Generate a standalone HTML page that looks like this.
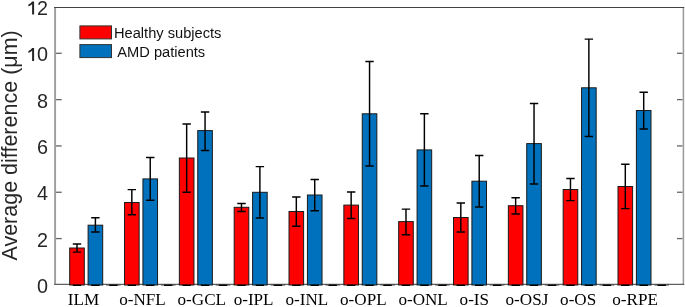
<!DOCTYPE html>
<html><head><meta charset="utf-8"><style>
html,body{margin:0;padding:0;background:#fff;width:685px;height:307px;overflow:hidden}
svg{display:block;will-change:transform}
.tk{font-family:"Liberation Sans",sans-serif;font-size:19.8px;fill:#262626}
.yl{font-family:"Liberation Sans",sans-serif;font-size:21.5px;fill:#262626}
.lg{font-family:"Liberation Sans",sans-serif;font-size:14.65px;fill:#111}
.xl{font-family:"Liberation Serif",serif;font-size:16.3px;fill:#000}
</style></head><body>
<svg width="685" height="307" viewBox="0 0 685 307">
<rect x="0" y="0" width="685" height="307" fill="#fff"/>
<line x1="55.1" x2="55.1" y1="7" y2="284.6" stroke="#9d9d9d" stroke-width="1.9"/>
<line x1="683.4" x2="683.4" y1="7" y2="284.6" stroke="#9a9a9a" stroke-width="1.5"/>
<line x1="54.1" x2="684.2" y1="7.45" y2="7.45" stroke="#444" stroke-width="1.15"/>
<line x1="54.1" x2="684.2" y1="284.35" y2="284.35" stroke="#606060" stroke-width="1.1"/>
<rect x="69.70" y="248" width="14.6" height="37.00" fill="#ff0000" stroke="#1a1a1a" stroke-width="1"/>
<rect x="88.10" y="225.2" width="14.6" height="59.80" fill="#0072bd" stroke="#1a1a1a" stroke-width="1"/>
<line x1="106.10" x2="120.70" y1="285.0" y2="285.0" stroke="#444" stroke-width="1"/>
<line x1="72.80" x2="81.20" y1="285.3" y2="285.3" stroke="#000" stroke-width="1.4"/>
<line x1="91.20" x2="99.60" y1="285.3" y2="285.3" stroke="#000" stroke-width="1.4"/>
<line x1="109.20" x2="117.60" y1="285.3" y2="285.3" stroke="#000" stroke-width="1.4"/>
<path d="M77.00 243.9V252.1M72.80 243.9H81.20M72.80 252.1H81.20" stroke="#000" stroke-width="1.45" fill="none"/>
<path d="M95.40 217.8V232M91.20 217.8H99.60M91.20 232H99.60" stroke="#000" stroke-width="1.45" fill="none"/>
<rect x="124.53" y="202.5" width="14.6" height="82.50" fill="#ff0000" stroke="#1a1a1a" stroke-width="1"/>
<rect x="142.93" y="178.9" width="14.6" height="106.10" fill="#0072bd" stroke="#1a1a1a" stroke-width="1"/>
<line x1="160.93" x2="175.53" y1="285.0" y2="285.0" stroke="#444" stroke-width="1"/>
<line x1="127.63" x2="136.03" y1="285.3" y2="285.3" stroke="#000" stroke-width="1.4"/>
<line x1="146.03" x2="154.43" y1="285.3" y2="285.3" stroke="#000" stroke-width="1.4"/>
<line x1="164.03" x2="172.43" y1="285.3" y2="285.3" stroke="#000" stroke-width="1.4"/>
<path d="M131.83 189.6V214.8M127.63 189.6H136.03M127.63 214.8H136.03" stroke="#000" stroke-width="1.45" fill="none"/>
<path d="M150.23 157.4V200.2M146.03 157.4H154.43M146.03 200.2H154.43" stroke="#000" stroke-width="1.45" fill="none"/>
<rect x="179.36" y="158" width="14.6" height="127.00" fill="#ff0000" stroke="#1a1a1a" stroke-width="1"/>
<rect x="197.76" y="130.6" width="14.6" height="154.40" fill="#0072bd" stroke="#1a1a1a" stroke-width="1"/>
<line x1="215.76" x2="230.36" y1="285.0" y2="285.0" stroke="#444" stroke-width="1"/>
<line x1="182.46" x2="190.86" y1="285.3" y2="285.3" stroke="#000" stroke-width="1.4"/>
<line x1="200.86" x2="209.26" y1="285.3" y2="285.3" stroke="#000" stroke-width="1.4"/>
<line x1="218.86" x2="227.26" y1="285.3" y2="285.3" stroke="#000" stroke-width="1.4"/>
<path d="M186.66 124V192.2M182.46 124H190.86M182.46 192.2H190.86" stroke="#000" stroke-width="1.45" fill="none"/>
<path d="M205.06 112V150.4M200.86 112H209.26M200.86 150.4H209.26" stroke="#000" stroke-width="1.45" fill="none"/>
<rect x="234.19" y="207.3" width="14.6" height="77.70" fill="#ff0000" stroke="#1a1a1a" stroke-width="1"/>
<rect x="252.59" y="192.3" width="14.6" height="92.70" fill="#0072bd" stroke="#1a1a1a" stroke-width="1"/>
<line x1="270.59" x2="285.19" y1="285.0" y2="285.0" stroke="#444" stroke-width="1"/>
<line x1="237.29" x2="245.69" y1="285.3" y2="285.3" stroke="#000" stroke-width="1.4"/>
<line x1="255.69" x2="264.09" y1="285.3" y2="285.3" stroke="#000" stroke-width="1.4"/>
<line x1="273.69" x2="282.09" y1="285.3" y2="285.3" stroke="#000" stroke-width="1.4"/>
<path d="M241.49 203.4V211.4M237.29 203.4H245.69M237.29 211.4H245.69" stroke="#000" stroke-width="1.45" fill="none"/>
<path d="M259.89 166.6V217.9M255.69 166.6H264.09M255.69 217.9H264.09" stroke="#000" stroke-width="1.45" fill="none"/>
<rect x="289.02" y="211.5" width="14.6" height="73.50" fill="#ff0000" stroke="#1a1a1a" stroke-width="1"/>
<rect x="307.42" y="195" width="14.6" height="90.00" fill="#0072bd" stroke="#1a1a1a" stroke-width="1"/>
<line x1="325.42" x2="340.02" y1="285.0" y2="285.0" stroke="#444" stroke-width="1"/>
<line x1="292.12" x2="300.52" y1="285.3" y2="285.3" stroke="#000" stroke-width="1.4"/>
<line x1="310.52" x2="318.92" y1="285.3" y2="285.3" stroke="#000" stroke-width="1.4"/>
<line x1="328.52" x2="336.92" y1="285.3" y2="285.3" stroke="#000" stroke-width="1.4"/>
<path d="M296.32 197V226.3M292.12 197H300.52M292.12 226.3H300.52" stroke="#000" stroke-width="1.45" fill="none"/>
<path d="M314.72 179.4V210.7M310.52 179.4H318.92M310.52 210.7H318.92" stroke="#000" stroke-width="1.45" fill="none"/>
<rect x="343.85" y="205.1" width="14.6" height="79.90" fill="#ff0000" stroke="#1a1a1a" stroke-width="1"/>
<rect x="362.25" y="113.8" width="14.6" height="171.20" fill="#0072bd" stroke="#1a1a1a" stroke-width="1"/>
<line x1="380.25" x2="394.85" y1="285.0" y2="285.0" stroke="#444" stroke-width="1"/>
<line x1="346.95" x2="355.35" y1="285.3" y2="285.3" stroke="#000" stroke-width="1.4"/>
<line x1="365.35" x2="373.75" y1="285.3" y2="285.3" stroke="#000" stroke-width="1.4"/>
<line x1="383.35" x2="391.75" y1="285.3" y2="285.3" stroke="#000" stroke-width="1.4"/>
<path d="M351.15 191.9V218.4M346.95 191.9H355.35M346.95 218.4H355.35" stroke="#000" stroke-width="1.45" fill="none"/>
<path d="M369.55 61.4V166M365.35 61.4H373.75M365.35 166H373.75" stroke="#000" stroke-width="1.45" fill="none"/>
<rect x="398.68" y="221.6" width="14.6" height="63.40" fill="#ff0000" stroke="#1a1a1a" stroke-width="1"/>
<rect x="417.08" y="149.9" width="14.6" height="135.10" fill="#0072bd" stroke="#1a1a1a" stroke-width="1"/>
<line x1="435.08" x2="449.68" y1="285.0" y2="285.0" stroke="#444" stroke-width="1"/>
<line x1="401.78" x2="410.18" y1="285.3" y2="285.3" stroke="#000" stroke-width="1.4"/>
<line x1="420.18" x2="428.58" y1="285.3" y2="285.3" stroke="#000" stroke-width="1.4"/>
<line x1="438.18" x2="446.58" y1="285.3" y2="285.3" stroke="#000" stroke-width="1.4"/>
<path d="M405.98 209.1V234.7M401.78 209.1H410.18M401.78 234.7H410.18" stroke="#000" stroke-width="1.45" fill="none"/>
<path d="M424.38 113.8V186M420.18 113.8H428.58M420.18 186H428.58" stroke="#000" stroke-width="1.45" fill="none"/>
<rect x="453.51" y="217.5" width="14.6" height="67.50" fill="#ff0000" stroke="#1a1a1a" stroke-width="1"/>
<rect x="471.91" y="181.2" width="14.6" height="103.80" fill="#0072bd" stroke="#1a1a1a" stroke-width="1"/>
<line x1="489.91" x2="504.51" y1="285.0" y2="285.0" stroke="#444" stroke-width="1"/>
<line x1="456.61" x2="465.01" y1="285.3" y2="285.3" stroke="#000" stroke-width="1.4"/>
<line x1="475.01" x2="483.41" y1="285.3" y2="285.3" stroke="#000" stroke-width="1.4"/>
<line x1="493.01" x2="501.41" y1="285.3" y2="285.3" stroke="#000" stroke-width="1.4"/>
<path d="M460.81 203V231.9M456.61 203H465.01M456.61 231.9H465.01" stroke="#000" stroke-width="1.45" fill="none"/>
<path d="M479.21 155.5V206.9M475.01 155.5H483.41M475.01 206.9H483.41" stroke="#000" stroke-width="1.45" fill="none"/>
<rect x="508.34" y="205.7" width="14.6" height="79.30" fill="#ff0000" stroke="#1a1a1a" stroke-width="1"/>
<rect x="526.74" y="143.6" width="14.6" height="141.40" fill="#0072bd" stroke="#1a1a1a" stroke-width="1"/>
<line x1="544.74" x2="559.34" y1="285.0" y2="285.0" stroke="#444" stroke-width="1"/>
<line x1="511.44" x2="519.84" y1="285.3" y2="285.3" stroke="#000" stroke-width="1.4"/>
<line x1="529.84" x2="538.24" y1="285.3" y2="285.3" stroke="#000" stroke-width="1.4"/>
<line x1="547.84" x2="556.24" y1="285.3" y2="285.3" stroke="#000" stroke-width="1.4"/>
<path d="M515.64 197.7V213.9M511.44 197.7H519.84M511.44 213.9H519.84" stroke="#000" stroke-width="1.45" fill="none"/>
<path d="M534.04 103.5V184M529.84 103.5H538.24M529.84 184H538.24" stroke="#000" stroke-width="1.45" fill="none"/>
<rect x="563.17" y="189.5" width="14.6" height="95.50" fill="#ff0000" stroke="#1a1a1a" stroke-width="1"/>
<rect x="581.57" y="87.8" width="14.6" height="197.20" fill="#0072bd" stroke="#1a1a1a" stroke-width="1"/>
<line x1="599.57" x2="614.17" y1="285.0" y2="285.0" stroke="#444" stroke-width="1"/>
<line x1="566.27" x2="574.67" y1="285.3" y2="285.3" stroke="#000" stroke-width="1.4"/>
<line x1="584.67" x2="593.07" y1="285.3" y2="285.3" stroke="#000" stroke-width="1.4"/>
<line x1="602.67" x2="611.07" y1="285.3" y2="285.3" stroke="#000" stroke-width="1.4"/>
<path d="M570.47 178.5V200.6M566.27 178.5H574.67M566.27 200.6H574.67" stroke="#000" stroke-width="1.45" fill="none"/>
<path d="M588.87 39.1V136.4M584.67 39.1H593.07M584.67 136.4H593.07" stroke="#000" stroke-width="1.45" fill="none"/>
<rect x="618.00" y="186.5" width="14.6" height="98.50" fill="#ff0000" stroke="#1a1a1a" stroke-width="1"/>
<rect x="636.40" y="110.5" width="14.6" height="174.50" fill="#0072bd" stroke="#1a1a1a" stroke-width="1"/>
<line x1="654.40" x2="669.00" y1="285.0" y2="285.0" stroke="#444" stroke-width="1"/>
<line x1="621.10" x2="629.50" y1="285.3" y2="285.3" stroke="#000" stroke-width="1.4"/>
<line x1="639.50" x2="647.90" y1="285.3" y2="285.3" stroke="#000" stroke-width="1.4"/>
<line x1="657.50" x2="665.90" y1="285.3" y2="285.3" stroke="#000" stroke-width="1.4"/>
<path d="M625.30 164.2V208.6M621.10 164.2H629.50M621.10 208.6H629.50" stroke="#000" stroke-width="1.45" fill="none"/>
<path d="M643.70 92.3V129M639.50 92.3H647.90M639.50 129H647.90" stroke="#000" stroke-width="1.45" fill="none"/>
<text x="47.9" y="292.80" text-anchor="end" class="tk">0</text>
<line x1="56" x2="61.7" y1="238.58" y2="238.58" stroke="#666" stroke-width="1.3"/>
<line x1="677" x2="682.5" y1="238.58" y2="238.58" stroke="#666" stroke-width="1.3"/>
<text x="47.9" y="246.60" text-anchor="end" class="tk">2</text>
<line x1="56" x2="61.7" y1="192.26" y2="192.26" stroke="#666" stroke-width="1.3"/>
<line x1="677" x2="682.5" y1="192.26" y2="192.26" stroke="#666" stroke-width="1.3"/>
<text x="47.9" y="200.40" text-anchor="end" class="tk">4</text>
<line x1="56" x2="61.7" y1="145.94" y2="145.94" stroke="#666" stroke-width="1.3"/>
<line x1="677" x2="682.5" y1="145.94" y2="145.94" stroke="#666" stroke-width="1.3"/>
<text x="47.9" y="154.20" text-anchor="end" class="tk">6</text>
<line x1="56" x2="61.7" y1="99.62" y2="99.62" stroke="#666" stroke-width="1.3"/>
<line x1="677" x2="682.5" y1="99.62" y2="99.62" stroke="#666" stroke-width="1.3"/>
<text x="47.9" y="108.00" text-anchor="end" class="tk">8</text>
<line x1="56" x2="61.7" y1="53.30" y2="53.30" stroke="#666" stroke-width="1.3"/>
<line x1="677" x2="682.5" y1="53.30" y2="53.30" stroke="#666" stroke-width="1.3"/>
<text x="47.9" y="61.10" text-anchor="end" class="tk">0</text>
<path d="M32.1 48.00H34.1V61.10H32.1V50.80Q30.6 52.10 28.4 52.90V51.10Q30.9 50.00 32.1 48.00Z" fill="#262626"/>
<text x="47.9" y="14.60" text-anchor="end" class="tk">2</text>
<path d="M32.1 1.50H34.1V14.60H32.1V4.30Q30.6 5.60 28.4 6.40V4.60Q30.9 3.50 32.1 1.50Z" fill="#262626"/>
<text transform="translate(17.2 145.4) rotate(-90)" text-anchor="middle" class="yl">Average difference (μm)</text>
<rect x="79.9" y="25.9" width="31.6" height="13" fill="#ff0000" stroke="#333" stroke-width="1"/>
<rect x="79.9" y="44.6" width="31.6" height="13" fill="#0072bd" stroke="#333" stroke-width="1"/>
<text x="114" y="38.4" class="lg">Healthy subjects</text>
<text x="117.3" y="56.9" class="lg">AMD patients</text>
<text transform="translate(83.55 305) scale(1.05 1)" text-anchor="middle" class="xl">ILM</text>
<text transform="translate(142.50 305) scale(1.05 1)" text-anchor="middle" class="xl">o-NFL</text>
<text transform="translate(201.75 305) scale(1.05 1)" text-anchor="middle" class="xl">o-GCL</text>
<text transform="translate(253.60 305) scale(1.05 1)" text-anchor="middle" class="xl">o-IPL</text>
<text transform="translate(306.95 305) scale(1.05 1)" text-anchor="middle" class="xl">o-INL</text>
<text transform="translate(363.35 305) scale(1.05 1)" text-anchor="middle" class="xl">o-OPL</text>
<text transform="translate(423.10 305) scale(1.05 1)" text-anchor="middle" class="xl">o-ONL</text>
<text transform="translate(474.30 305) scale(1.05 1)" text-anchor="middle" class="xl">o-IS</text>
<text transform="translate(526.95 305) scale(1.05 1)" text-anchor="middle" class="xl">o-OSJ</text>
<text transform="translate(578.15 305) scale(1.05 1)" text-anchor="middle" class="xl">o-OS</text>
<text transform="translate(635.10 305) scale(1.05 1)" text-anchor="middle" class="xl">o-RPE</text>
</svg>
</body></html>
